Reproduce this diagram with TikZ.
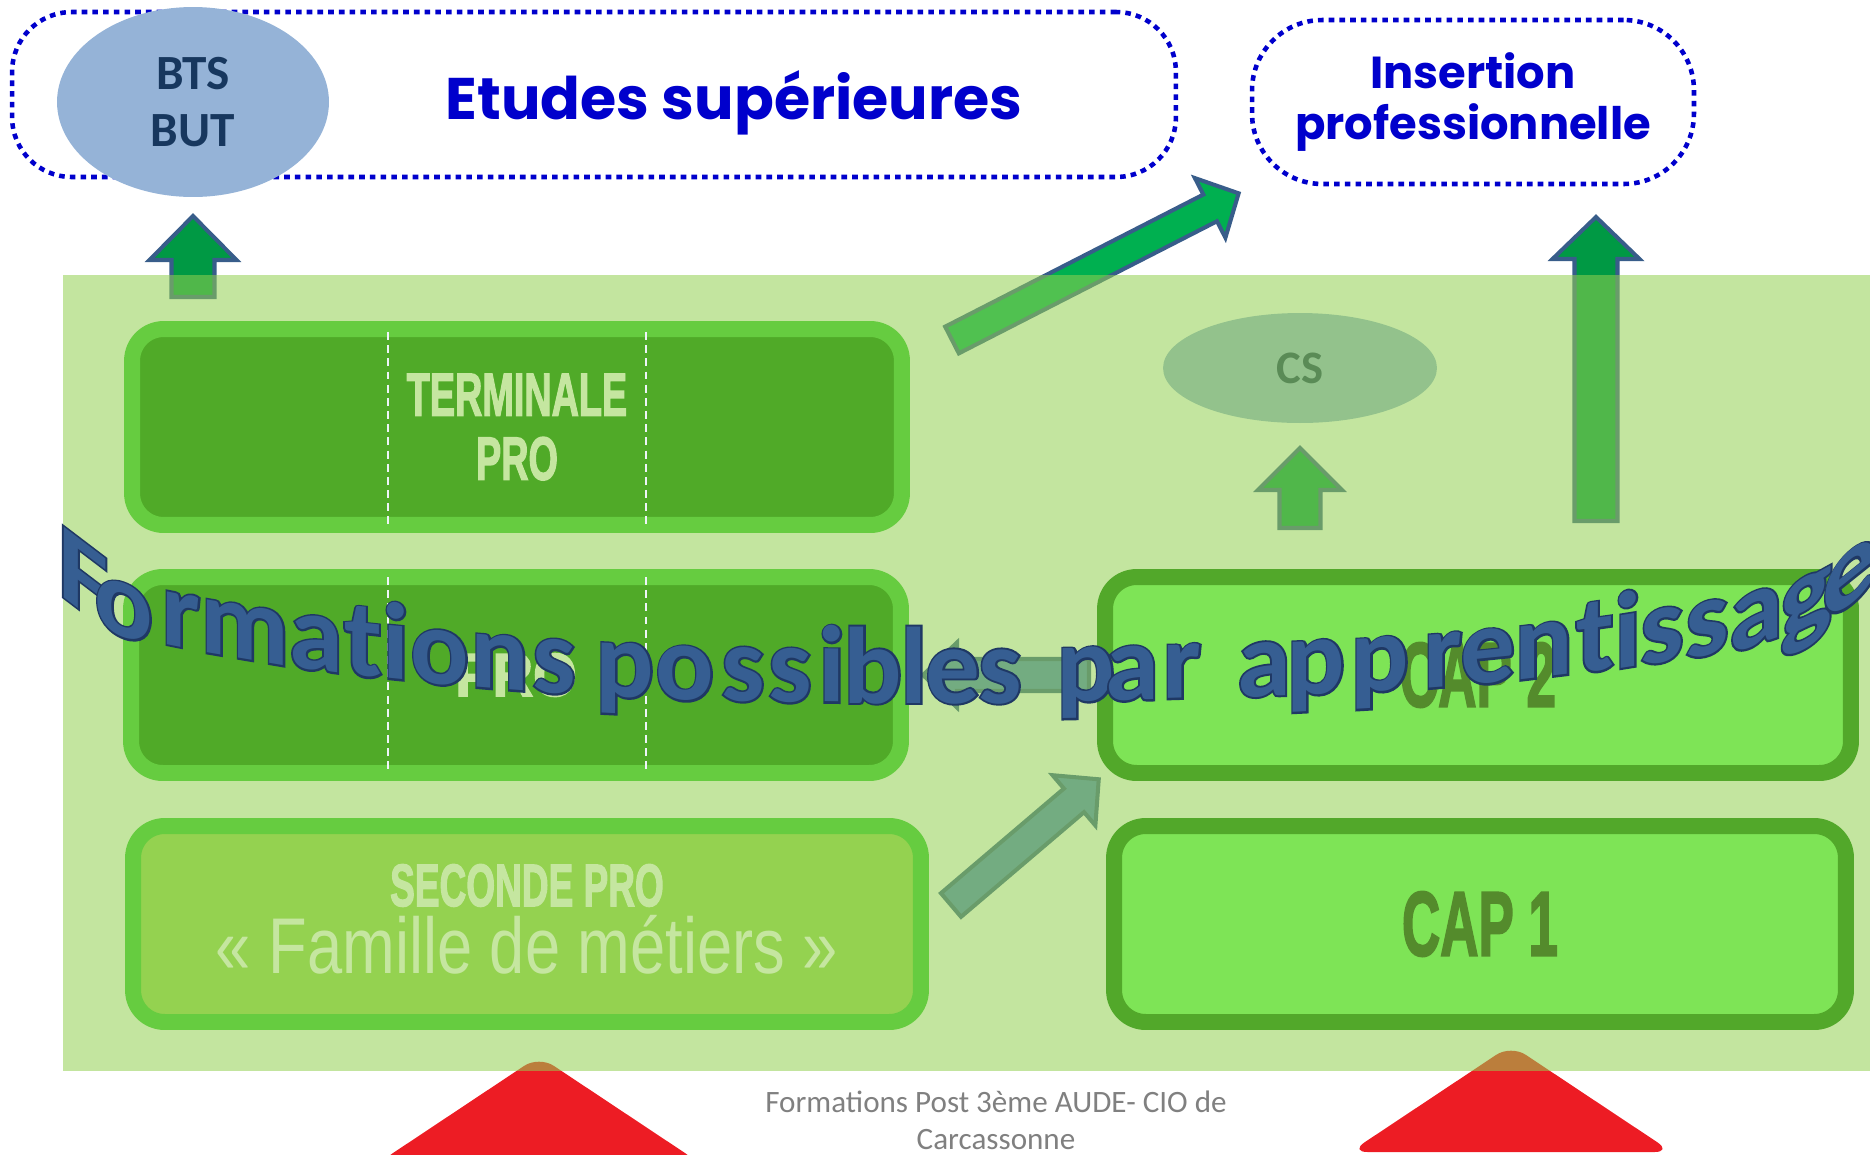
\documentclass[tikz,border=0pt]{standalone}
\usepackage{fontspec}
\setmainfont{Carlito}
\newfontfamily\titlefont{Poppins}
\newfontfamily\levelfont{Liberation Sans}[BoldFeatures={FakeBold=2.5}]
\newfontfamily\edgefont{Carlito}[BoldFeatures={FakeBold=3.5}]
\usetikzlibrary{positioning,shapes.geometric}
\definecolor{dotblue}{RGB}{0,0,204}
\definecolor{ovalblue}{RGB}{149,179,215}
\definecolor{navy}{RGB}{23,55,94}
\definecolor{arrowline}{RGB}{56,93,138}
\definecolor{upgreen}{RGB}{0,153,68}
\definecolor{diaggreen}{RGB}{0,176,80}
\definecolor{accentblue}{RGB}{79,129,189}
\definecolor{lightgreen}{RGB}{146,208,80}
\definecolor{rimgreen}{RGB}{102,204,64}
\definecolor{darkgreen}{RGB}{80,170,40}
\definecolor{midgreen}{RGB}{148,210,80}
\definecolor{brightgreen}{RGB}{126,228,86}
\definecolor{rimdark}{RGB}{82,168,42}
\definecolor{palegreen}{RGB}{197,230,160}
\definecolor{capgreen}{RGB}{84,139,44}
\definecolor{warnred}{RGB}{237,28,36}
\definecolor{wafill}{RGB}{54,94,146}
\definecolor{waline}{RGB}{31,56,100}
\definecolor{footgray}{RGB}{128,128,128}
\newcommand{\squeeze}[2][0.62]{\scalebox{#1}[1]{#2}}
% block arrow: [style]{tail}{angle}{length}{shaft half width}{head half width}{head length}
\newcommand{\blockarrow}[7][]{%
	\draw[#1,shift={#2},rotate=#3] (0,-#5) -- ({#4-#7},-#5) -- ({#4-#7},-#6) -- (#4,0) -- ({#4-#7},#6) -- ({#4-#7},#5) -- (0,#5) -- cycle;}
\tikzset{%
	goalbox/.style   = {draw=dotblue, line width=2.6pt, dash pattern=on 3.2pt off 2.9pt, text=dotblue, align=center, inner sep=0pt},
	oval/.style      = {ellipse, fill=ovalblue, text=navy, inner sep=0pt, align=center},
	levelbox/.style  = {rectangle, rounded corners=18pt, line width=9.1pt, inner sep=0pt, align=center, minimum height=3.92cm},
	prolevel/.style  = {levelbox, draw=rimgreen, fill=darkgreen, text=palegreen, font=\levelfont\bfseries\fontsize{34.7}{36.4}\selectfont},
	caplevel/.style  = {levelbox, draw=rimdark, fill=brightgreen, text=capgreen, font=\levelfont\bfseries\fontsize{52}{54}\selectfont},
	splitline/.style = {draw=white!85!ovalblue, line width=1.1pt, dash pattern=on 4.5pt off 3pt},
	uparrow/.style   = {fill=upgreen, draw=arrowline, line width=2.3pt},
	outarrow/.style  = {fill=diaggreen, draw=arrowline, line width=2.3pt},
	passarrow/.style = {fill=accentblue, draw=arrowline, line width=2.3pt},
	wordedge/.style  = {anchor=base, inner sep=0pt, text=waline, font=\edgefont\bfseries\fontsize{62}{62}\selectfont},
	wordfill/.style  = {anchor=base, inner sep=0pt, text=wafill, font=\bfseries\fontsize{62}{62}\selectfont},
}

\begin{document}
\begin{tikzpicture}[x=0.02cm,y=-0.02cm]
		\path[use as bounding box] (0,0) rectangle (1870,1154);
		\clip (0,0) rectangle (1870,1154);
		
		% goals
		\node[goalbox, rounded corners=34pt, minimum width=23.28cm, minimum height=3.3cm] (etudesbox) at (594,94.5) {};
		\node[anchor=base, text=dotblue, font=\titlefont\bfseries\fontsize{33.4}{38}\selectfont] (etudes) at (734,119) {Etudes supérieures};
		\node[oval, minimum width=5.44cm, minimum height=3.8cm, font=\bfseries\fontsize{28}{32}\selectfont] (bts) at (193,102) {BTS\\BUT};
		\node[goalbox, rounded corners=40pt, minimum width=8.84cm, minimum height=3.28cm, font=\titlefont\bfseries\fontsize{25.5}{29}\selectfont] (insertion) at (1473,102) {Insertion\\professionnelle};
		
		% under the green layer
		\blockarrow[uparrow]{(193,297)}{90}{81}{21.5}{43.5}{44}
		\blockarrow[outarrow]{(952,340)}{27.1}{322}{15}{33.5}{32}
		\blockarrow[uparrow]{(1596,521)}{90}{304}{21.5}{43.5}{42}
		\blockarrow[uparrow]{(1300,528)}{90}{80}{20.5}{42}{42}
		\blockarrow[passarrow]{(1089,675)}{180}{166}{16}{32.5}{34}
		\blockarrow[passarrow]{(951,905)}{40.4}{194}{15.5}{33}{32.5}
		\node[oval, minimum width=5.48cm, minimum height=2.2cm, font=\bfseries\fontsize{26.5}{30}\selectfont] (cs) at (1300,368) {CS};
		\fill[warnred, rounded corners=10pt] (378,1163) -- (539,1056) -- (700,1163) -- cycle;
		\fill[warnred, rounded corners=10pt] (1350,1152) -- (1511,1045) -- (1672,1152) -- cycle;
		
		\fill[lightgreen, opacity=0.55] (63,275) rectangle (1870,1071);
		
		% levels
		\node[prolevel, minimum width=15.4cm] (terminale) at (517,427) {\squeeze{TERMINALE}\\\squeeze{PRO}};
		\node[prolevel, minimum width=15.4cm] (premiere) at (516,675) {\squeeze[0.92]{PRO}};
		\foreach \x in {388,646} {
			\draw[splitline] (\x,332) -- (\x,528);
			\draw[splitline] (\x,577) -- (\x,773);
		}
		\node[prolevel, fill=midgreen, minimum width=15.76cm] (seconde) at (527,924) {};
		\node[anchor=base, text=palegreen, font=\levelfont\bfseries\fontsize{34}{36}\selectfont] (secondetitle) at (527,906) {\squeeze{SECONDE PRO}};
		\node[anchor=base, text=palegreen, font=\levelfont\fontsize{45}{48}\selectfont] (famille) at (527,973) {\squeeze[0.8]{« Famille de métiers »}};
		\node[caplevel, minimum width=14.92cm] (captwo) at (1478,675) {\squeeze[0.58]{CAP 2}};
		\node[caplevel, minimum width=14.64cm] (capone) at (1480,924) {\squeeze[0.58]{CAP 1}};
		
		% curved title
		\foreach \ch/\x/\y/\k [count=\i] in {F/83/612/-0.76, o/124/637/-0.35, r/181/647/-0.2, m/245/659/-0.17, a/316/670/-0.13, t/363/676/-0.11, i/396/679/-0.1, o/440/684/-0.09, n/500/689/-0.08, s/554/693/-0.07, p/625/697/-0.05, o/685/700/-0.04, s/743/701/-0.03, s/790/702/-0.02, i/832/702/-0.01, b/873/703/0, l/914/703/0, e/953/703/0, s/1000/703/0, p/1086/701/0.02, a/1132/700/0.02, r/1182/698/0.03, a/1264/696/0.04, p/1316/694/0.05, p/1380/691/0.06, r/1443/687/0.08, e/1488/683/0.1, n/1544/677/0.12, t/1595/671/0.14, i/1628/667/0.16, s/1662/662/0.2, s/1707/655/0.25, a/1756/645/0.35, g/1806/630/0.55, e/1850/605/0.8} {
			\node[wordedge, yslant=\k] at (\x,\y) {\ch};
			\node[wordfill, yslant=\k] (w\i) at (\x,\y) {\ch};
		}
		
		\node[text=footgray, align=center, font=\fontsize{17.7}{21}\selectfont] (footer) at (996,1120) {Formations Post 3ème AUDE- CIO de\\Carcassonne};
\end{tikzpicture}
\end{document}
